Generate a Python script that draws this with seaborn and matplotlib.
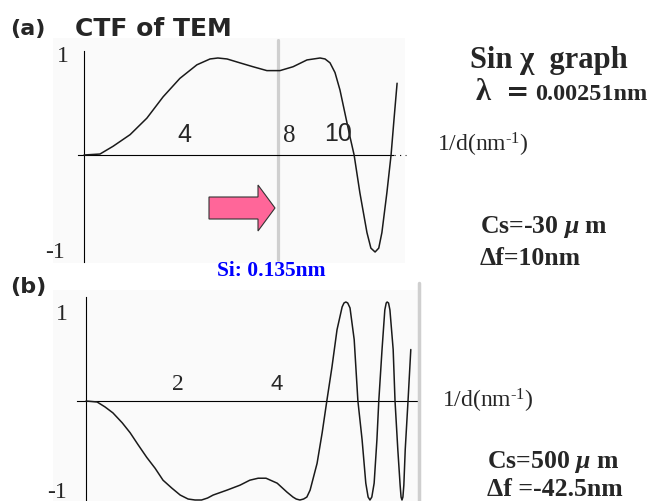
import matplotlib
matplotlib.use("Agg")
import matplotlib.pyplot as plt
import seaborn as sns
from matplotlib.patches import Polygon
from matplotlib.lines import Line2D
from matplotlib.ticker import FixedLocator

# ---- sin(chi) curves, read along 1/d (nm^-1) ----
# (a) Cs = -30 um, defocus = 10 nm
freq_a = [0.0, 0.61, 1.11, 1.76, 2.40, 3.02, 3.66, 4.31, 4.81, 5.11, 5.46, 5.95,
          6.45, 6.98, 7.48, 7.98, 8.51, 9.01, 9.20, 9.39, 9.58, 9.77, 9.96, 10.15,
          10.31, 10.53, 10.80, 10.95, 11.11, 11.25, 11.37, 11.56, 11.72, 11.83, 11.95]
ctf_a = [0.0, 0.01, 0.09, 0.21, 0.38, 0.60, 0.79, 0.93, 0.99, 1.00, 0.99, 0.95,
         0.91, 0.87, 0.87, 0.91, 0.98, 1.00, 0.99, 0.95, 0.85, 0.67, 0.43, 0.19,
         0.00, -0.39, -0.80, -0.96, -1.00, -0.96, -0.80, -0.39, 0.00, 0.36, 0.74]

# (b) Cs = 500 um, defocus = -42.5 nm
freq_b = [0.0, 0.24, 0.41, 0.58, 0.78, 0.95, 1.12, 1.31, 1.49, 1.66, 1.85, 2.03,
          2.20, 2.35, 2.49, 2.62, 2.74, 3.04, 3.32, 3.53, 3.71, 3.88, 4.12, 4.33,
          4.46, 4.53, 4.61, 4.69, 4.76, 4.83, 4.98, 5.09, 5.19, 5.30, 5.41, 5.52,
          5.56, 5.60, 5.64, 5.69, 5.78, 5.86, 5.95, 6.03, 6.08, 6.12, 6.16, 6.21,
          6.27, 6.31, 6.38, 6.44, 6.47, 6.49, 6.52, 6.55, 6.62, 6.66, 6.72, 6.77,
          6.79, 6.81, 6.83, 6.85, 6.88, 6.94, 7.00]
ctf_b = [0.0, -0.01, -0.06, -0.12, -0.22, -0.32, -0.44, -0.57, -0.68, -0.80, -0.88, -0.95,
         -0.99, -1.00, -1.00, -0.98, -0.95, -0.90, -0.85, -0.80, -0.78, -0.78, -0.83, -0.92,
         -0.97, -0.99, -1.00, -0.99, -0.97, -0.90, -0.63, -0.32, 0.00, 0.34, 0.72, 0.95,
         0.99, 1.00, 0.99, 0.94, 0.62, 0.00, -0.39, -0.83, -0.97, -1.00, -0.97, -0.83,
         -0.39, 0.00, 0.52, 0.92, 0.99, 1.00, 0.99, 0.92, 0.52, 0.00, -0.49, -0.85,
         -0.97, -1.00, -0.97, -0.85, -0.49, 0.00, 0.52]

si_spacing_nm = 0.135
xtick_labels_a = ["4", "8", "10"]
xtick_labels_b = ["2", "4"]
ytick_labels = ["1", "-1"]

# ---- figure in pixel units ----
W, H = 651, 501
sns.set_style("white")
plt.rcParams["font.family"] = ["Liberation Serif", "DejaVu Serif"]
plt.rcParams["mathtext.fontset"] = "custom"
plt.rcParams["mathtext.rm"] = "Liberation Serif"
plt.rcParams["mathtext.it"] = "Liberation Serif:italic:bold"
plt.rcParams["mathtext.bf"] = "Liberation Serif:bold"
fig = plt.figure(figsize=(W / 100, H / 100), dpi=100)


def fx(x):
    return x / W


def fy(y):
    return 1 - y / H


def make_axes(box, origin, scale):
    x0, y0, x1, y1 = box
    ax = fig.add_axes([fx(x0), fy(y1), (x1 - x0) / W, (y1 - y0) / H])
    ax.set_xlim((x0 - origin[0]) / scale[0], (x1 - origin[0]) / scale[0])
    ax.set_ylim((origin[1] - y1) / scale[1], (origin[1] - y0) / scale[1])
    ax.set_facecolor("#fafafa")
    for s in ("top", "right"):
        ax.spines[s].set_visible(False)
    ax.spines["left"].set_position(("data", 0))
    ax.spines["bottom"].set_position(("data", 0))
    for s in ("left", "bottom"):
        ax.spines[s].set_color("black")
        ax.spines[s].set_linewidth(0.8)
    ax.tick_params(which="both", direction="in", labelbottom=False,
                   labelleft=False, color="black", width=0.6)
    ax.tick_params(which="major", length=3.5)
    ax.tick_params(which="minor", length=2.2)
    return ax


ytick_major = [-1.0, -0.5, 0.5, 1.0]
ytick_minor = [k / 10 for k in range(-10, 11) if k != 0 and k % 5 != 0]

# ---- panel (a) ----
ax_a = make_axes((53, 38, 405, 263), (84, 155), (26.2, 97))
ax_a.spines["left"].set_bounds(-1.10, 1.07)
ax_a.spines["bottom"].set_bounds(-0.23, 11.8)
ax_a.xaxis.set_major_locator(FixedLocator([2, 4, 6, 8, 10]))
ax_a.xaxis.set_minor_locator(FixedLocator([k / 2 for k in range(1, 24) if k % 4 != 0]))
ax_a.yaxis.set_major_locator(FixedLocator(ytick_major))
ax_a.yaxis.set_minor_locator(FixedLocator(ytick_minor))
ax_a.plot([11.85, 12.3], [0, 0], ls=(0, (1, 4)), color="black", lw=0.8, clip_on=False)
ax_a.axvline(1 / si_spacing_nm, ymin=0.013, ymax=0.99, color="#cfcfcf", lw=2.3, zorder=1)
sns.lineplot(x=freq_a, y=ctf_a, ax=ax_a, color="#1a1a1a", lw=1.1,
             estimator=None, sort=False, zorder=3)
ax_a.set_xlabel("")
ax_a.set_ylabel("")

# ---- panel (b) ----
ax_b = make_axes((53, 290, 419, 501), (86, 401), (46.4, 99))
ax_b.spines["left"].set_bounds(-1.05, 1.05)
ax_b.spines["bottom"].set_bounds(-0.19, 7.13)
ax_b.xaxis.set_major_locator(FixedLocator([1, 2, 3, 4, 5, 6, 7]))
ax_b.xaxis.set_minor_locator(FixedLocator([k / 5 for k in range(1, 35) if k % 5 != 0]))
ax_b.yaxis.set_major_locator(FixedLocator(ytick_major))
ax_b.yaxis.set_minor_locator(FixedLocator(ytick_minor))
sns.lineplot(x=freq_b, y=ctf_b, ax=ax_b, color="#1a1a1a", lw=1.1,
             estimator=None, sort=False, zorder=3)
ax_b.set_xlabel("")
ax_b.set_ylabel("")

fig.add_artist(Line2D([fx(419), fx(419)], [fy(283), fy(501)],
                      transform=fig.transFigure, color="#cfcfcf", lw=2.5))

# ---- tick numbers ----
sans = ["Liberation Sans", "DejaVu Sans"]
serif = ["Liberation Serif", "DejaVu Serif"]
for lab, (px, py), fam in zip(xtick_labels_a, [(184, 135), (289, 136), (338, 134)],
                              [sans, serif, sans]):
    fig.text(fx(px), fy(py), lab, family=fam, fontsize=18, ha="center", va="center")
for lab, (px, py), fam, fs in zip(xtick_labels_b, [(178, 385), (277, 385)],
                                  [serif, sans], [17, 16]):
    fig.text(fx(px), fy(py), lab, family=fam, fontsize=fs, ha="center", va="center")
for lab, (px, py) in zip(ytick_labels, [(63, 57), (55, 252)]):
    fig.text(fx(px), fy(py), lab, family=serif, fontsize=17, ha="center", va="center")
for lab, (px, py) in zip(ytick_labels, [(62, 315), (57, 492)]):
    fig.text(fx(px), fy(py), lab, family=serif, fontsize=17, ha="center", va="center")

# ---- headings and annotations ----
fig.text(fx(10), fy(29), "(a)", family=["DejaVu Sans"], fontweight="bold",
         fontsize=16, ha="left", va="center")
fig.text(fx(75), fy(29), "CTF of TEM", family=["DejaVu Sans"], fontweight="bold",
         fontsize=18, ha="left", va="center")
fig.text(fx(10), fy(287), "(b)", family=["DejaVu Sans"], fontweight="bold",
         fontsize=16, ha="left", va="center")

fig.text(fx(470), fy(68), "Sin χ  graph", family=serif, fontweight="bold",
         fontsize=22, ha="left", va="baseline")
fig.text(fx(476), fy(100), "λ", family=serif, fontweight="bold",
         fontsize=22, ha="left", va="baseline")
fig.text(fx(506), fy(100), "=", family=["DejaVu Serif"], fontweight="bold",
         fontsize=20, ha="left", va="baseline")
fig.text(fx(535), fy(100), "0.00251nm", family=serif, fontweight="bold",
         fontsize=17.5, ha="left", va="baseline")

axis_label = "1/d(nm$^{\\mathregular{\u20101}}$)"
fig.text(fx(437), fy(152), axis_label, family=serif, fontsize=17,
         ha="left", va="baseline")
fig.text(fx(442), fy(408), axis_label, family=serif, fontsize=17,
         ha="left", va="baseline")

fig.text(fx(217), fy(276), f"Si: {si_spacing_nm}nm", family=serif, fontweight="bold",
         fontsize=15.5, color="#0000ff", ha="left", va="baseline")

fig.text(fx(480), fy(233), "Cs=-30 $\\mu$ m", family=serif, fontweight="bold",
         fontsize=18.5, ha="left", va="baseline")
fig.text(fx(480), fy(265), "Δf=10nm", family=serif, fontweight="bold",
         fontsize=18.5, ha="left", va="baseline")
fig.text(fx(487), fy(468), "Cs=500 $\\mu$ m", family=serif, fontweight="bold",
         fontsize=18.5, ha="left", va="baseline")
fig.text(fx(487), fy(496), "Δf =-42.5nm", family=serif, fontweight="bold",
         fontsize=18.5, ha="left", va="baseline")

# block arrow pointing at the Si line
arrow_px = [(209, 197), (258, 197), (258, 185), (275, 208),
            (258, 231), (258, 219), (209, 219)]
fig.add_artist(Polygon([(fx(x), fy(y)) for x, y in arrow_px], closed=True,
                       transform=fig.transFigure, facecolor="#ff6699",
                       edgecolor="#333333", lw=0.8))

fig.savefig("out.png", dpi=100)
